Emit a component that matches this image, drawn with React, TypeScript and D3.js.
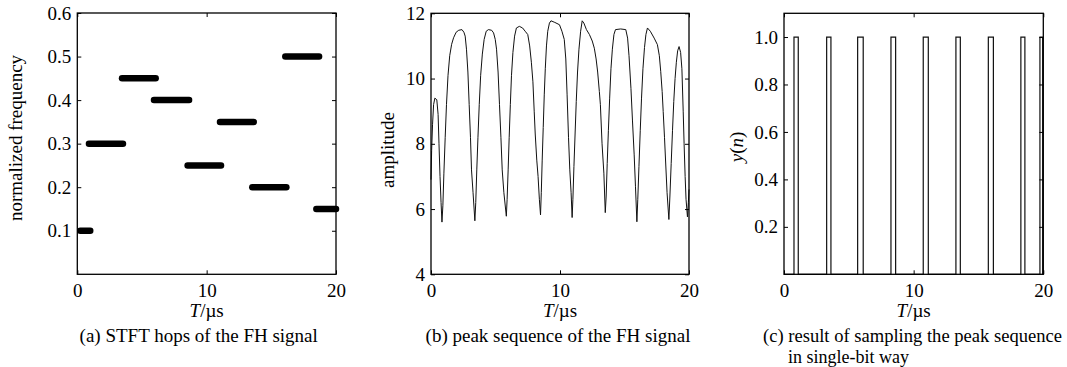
import React, { useEffect, useRef } from 'react';
import * as d3 from 'd3';

const W = 1067;
const H = 367;
const FONT = '"Liberation Serif", "Times New Roman", Times, serif';
const FS = 19;

// (a) STFT hops: start / end time (us) and normalized frequency
const hopStart = [0.23, 0.9, 3.46, 5.93, 8.53, 11.03, 13.53, 16.08, 18.48];
const hopEnd = [1.0, 3.53, 6.06, 8.64, 11.11, 13.64, 16.16, 18.69, 20.0];
const hopFreq = [0.1, 0.3, 0.45, 0.4, 0.25, 0.35, 0.2, 0.5, 0.15];

// (b) peak sequence
const peakTime = [
  0.0, 0.05, 0.12, 0.2, 0.3, 0.45, 0.55, 0.62, 0.7, 0.78, 0.85,
  0.92, 1.0, 1.1, 1.2, 1.32, 1.45, 1.6, 1.75, 1.95, 2.15, 2.4, 2.55, 2.65, 2.75, 2.86, 2.96, 3.06, 3.14, 3.26, 3.4,
  3.47, 3.55, 3.64, 3.74, 3.85, 3.98, 4.12, 4.28, 4.45, 4.7, 4.85, 4.98, 5.08, 5.2, 5.31, 5.42, 5.52, 5.65, 5.84,
  5.9, 5.98, 6.06, 6.15, 6.24, 6.35, 6.48, 6.62, 6.85, 7.1, 7.3, 7.5, 7.65, 7.78, 7.9, 8.0, 8.08, 8.2, 8.3, 8.4, 8.49,
  8.55, 8.62, 8.7, 8.78, 8.86, 8.95, 9.05, 9.18, 9.3, 9.6, 9.96, 10.15, 10.33, 10.45, 10.55, 10.66, 10.76, 10.86, 10.94,
  11.0, 11.08, 11.17, 11.26, 11.36, 11.47, 11.6, 11.72, 11.85, 12.05, 12.28, 12.5, 12.66, 12.8, 12.92, 13.05, 13.13, 13.26, 13.4, 13.51,
  13.58, 13.66, 13.75, 13.85, 13.95, 14.06, 14.18, 14.3, 14.7, 15.1, 15.24, 15.35, 15.5, 15.62, 15.75, 15.85, 15.96,
  16.03, 16.12, 16.22, 16.32, 16.43, 16.55, 16.66, 16.78, 17.0, 17.3, 17.55, 17.7, 17.81, 17.92, 18.0, 18.1, 18.2, 18.3, 18.44,
  18.52, 18.62, 18.72, 18.82, 18.92, 19.02, 19.12, 19.23, 19.35, 19.45, 19.55, 19.62, 19.7, 19.77, 19.88, 19.95, 20.0,
];
const peakAmp = [
  6.9, 7.8, 8.6, 9.2, 9.4, 9.35, 8.9, 8.0, 7.0, 6.2, 5.6,
  6.1, 7.1, 8.2, 9.2, 10.1, 10.7, 11.05, 11.25, 11.42, 11.48, 11.5, 11.42, 11.3, 10.9, 10.2, 9.2, 8.2, 7.2, 6.5, 5.64,
  6.2, 7.2, 8.2, 9.2, 10.1, 10.75, 11.2, 11.45, 11.5, 11.48, 11.4, 11.2, 10.9, 10.2, 9.2, 8.2, 7.2, 6.5, 5.78,
  6.3, 7.2, 8.2, 9.2, 10.1, 10.8, 11.3, 11.55, 11.6, 11.55, 11.45, 11.35, 11.0, 10.5, 9.9, 9.0, 8.3, 7.5, 7.0, 6.3, 5.82,
  6.5, 7.5, 8.5, 9.5, 10.3, 11.0, 11.45, 11.7, 11.77, 11.72, 11.65, 11.45, 11.2, 10.6, 9.5, 8.2, 7.2, 6.5, 5.74,
  6.3, 7.3, 8.3, 9.3, 10.2, 10.9, 11.45, 11.77, 11.7, 11.5, 11.35, 11.15, 10.93, 10.6, 10.2, 9.6, 9.2, 8.0, 7.1, 5.89,
  6.4, 7.4, 8.4, 9.4, 10.3, 10.9, 11.35, 11.5, 11.52, 11.5, 11.24, 10.7, 9.7, 8.7, 7.66, 6.7, 5.61,
  6.3, 7.3, 8.4, 9.4, 10.3, 10.95, 11.35, 11.55, 11.45, 11.24, 11.04, 10.7, 10.21, 9.6, 8.99, 8.2, 7.35, 6.5, 5.68,
  6.4, 7.4, 8.4, 9.3, 10.0, 10.5, 10.85, 10.98, 10.8, 10.3, 9.0, 8.0, 7.0, 6.3, 5.76, 6.2, 6.6,
];

// (c) single-bit samples: times where y(n) goes to 1 and back to 0
const pulseRise = [0.77, 3.29, 5.68, 8.25, 10.74, 13.26, 15.76, 18.27, 19.74];
const pulseFall = [1.1, 3.62, 6.11, 8.61, 11.13, 13.6, 16.15, 18.58, 19.95];

const xTicks = [0, 10, 20];
const freqTicks = [0.1, 0.2, 0.3, 0.4, 0.5, 0.6];
const ampTicks = [4, 6, 8, 10, 12];
const bitTicks = [0.2, 0.4, 0.6, 0.8, 1.0];

const top = 13.3;
const bottom = 274.3;

function frame(svg, x, y, yTicks, yFmt) {
  const [x0, x1] = x.range();
  const [y0, y1] = y.range();
  const g = svg.append('g');

  const axes = [
    { ax: d3.axisBottom(x).tickValues(xTicks).tickFormat(d3.format('d')).tickPadding(9), tr: `translate(0,${y0})` },
    { ax: d3.axisTop(x).tickValues(xTicks).tickFormat(() => ''), tr: `translate(0,${y1})` },
    { ax: d3.axisLeft(y).tickValues(yTicks).tickFormat(yFmt).tickPadding(6), tr: `translate(${x0},0)` },
    { ax: d3.axisRight(y).tickValues(yTicks).tickFormat(() => ''), tr: `translate(${x1},0)` },
  ];
  axes.forEach(({ ax, tr }) => {
    const a = g.append('g').attr('transform', tr).call(ax.tickSizeInner(-4).tickSizeOuter(0));
    a.select('.domain').remove();
    a.selectAll('line').attr('stroke', '#000').attr('stroke-width', 1);
    a.selectAll('text').attr('font-family', FONT).attr('font-size', FS).attr('fill', '#000');
    a.attr('font-family', null).attr('font-size', null);
  });

  g.append('rect')
    .attr('x', x0).attr('y', y1)
    .attr('width', x1 - x0).attr('height', y0 - y1)
    .attr('fill', 'none').attr('stroke', '#000').attr('stroke-width', 1.3);

  // x label T/µs
  const lab = g.append('text')
    .attr('x', (x0 + x1) / 2).attr('y', 317)
    .attr('text-anchor', 'middle')
    .attr('font-family', FONT).attr('font-size', FS);
  lab.append('tspan').attr('font-style', 'italic').text('T');
  lab.append('tspan').text('/µs');
  return g;
}

const App = () => {
  const svgRef = useRef(null);

  useEffect(() => {
    const svg = d3.select(svgRef.current);
    svg.selectAll('*').remove();

    // ---- (a)
    const xa = d3.scaleLinear().domain([0, 20]).range([77.3, 336]);
    const ya = d3.scaleLinear().domain([0, 0.6]).range([bottom, 13]);
    const hops = hopFreq.map((f, i) => ({ s: hopStart[i], e: hopEnd[i], f }));
    svg.append('g').selectAll('line').data(hops).join('line')
      .attr('x1', (d) => xa(d.s)).attr('x2', (d) => xa(d.e))
      .attr('y1', (d) => ya(d.f)).attr('y2', (d) => ya(d.f))
      .attr('stroke', '#000').attr('stroke-width', 6.5).attr('stroke-linecap', 'round');
    frame(svg, xa, ya, freqTicks, d3.format('.1f'));

    // ---- (b)
    const xb = d3.scaleLinear().domain([0, 20]).range([431, 689]);
    const yb = d3.scaleLinear().domain([4, 12]).range([bottom, top]);
    const peaks = peakTime.map((t, i) => [t, peakAmp[i]]);
    svg.append('path')
      .datum(peaks)
      .attr('d', d3.line().x((d) => xb(d[0])).y((d) => yb(d[1])))
      .attr('fill', 'none').attr('stroke', '#111').attr('stroke-width', 1);
    frame(svg, xb, yb, ampTicks, d3.format('d'));

    // ---- (c)
    const xc = d3.scaleLinear().domain([0, 20]).range([784, 1043.3]);
    const yc = d3.scaleLinear().domain([0, 1.1]).range([bottom, top]);
    const steps = [[0, 0]];
    pulseRise.forEach((r, i) => {
      steps.push([r, 0], [r, 1], [pulseFall[i], 1], [pulseFall[i], 0]);
    });
    steps.push([20, 0]);
    svg.append('path')
      .datum(steps)
      .attr('d', d3.line().x((d) => xc(d[0])).y((d) => yc(d[1])))
      .attr('fill', 'none').attr('stroke', '#111').attr('stroke-width', 1.2);
    frame(svg, xc, yc, bitTicks, d3.format('.1f'));

    // y labels
    const txt = (x, y, rot) =>
      svg.append('text')
        .attr('transform', `translate(${x},${y})${rot ? ' rotate(-90)' : ''}`)
        .attr('font-family', FONT).attr('font-size', FS).attr('fill', '#000');

    txt(22, 138, true).attr('text-anchor', 'middle').text('normalized frequency');
    txt(394, 150, true).attr('text-anchor', 'middle').text('amplitude');
    const yn = txt(743, 147, true).attr('text-anchor', 'middle');
    yn.append('tspan').attr('font-style', 'italic').text('y');
    yn.append('tspan').text('(');
    yn.append('tspan').attr('font-style', 'italic').text('n');
    yn.append('tspan').text(')');

    // captions
    txt(198.7, 342, false).attr('text-anchor', 'middle').text('(a) STFT hops of the FH signal');
    txt(558, 342, false).attr('text-anchor', 'middle').text('(b) peak sequence of the FH signal');
    txt(763, 342, false).attr('font-size', 18)
      .attr('textLength', 299).attr('lengthAdjust', 'spacingAndGlyphs')
      .text('(c) result of sampling the peak sequence');
    txt(788, 363, false).attr('font-size', 18).text('in single-bit way');
  }, []);

  return (
    <svg
      ref={svgRef}
      width={W}
      height={H}
      style={{ position: 'absolute', left: 0, top: 0, background: '#fff' }}
    />
  );
};

export default App;
